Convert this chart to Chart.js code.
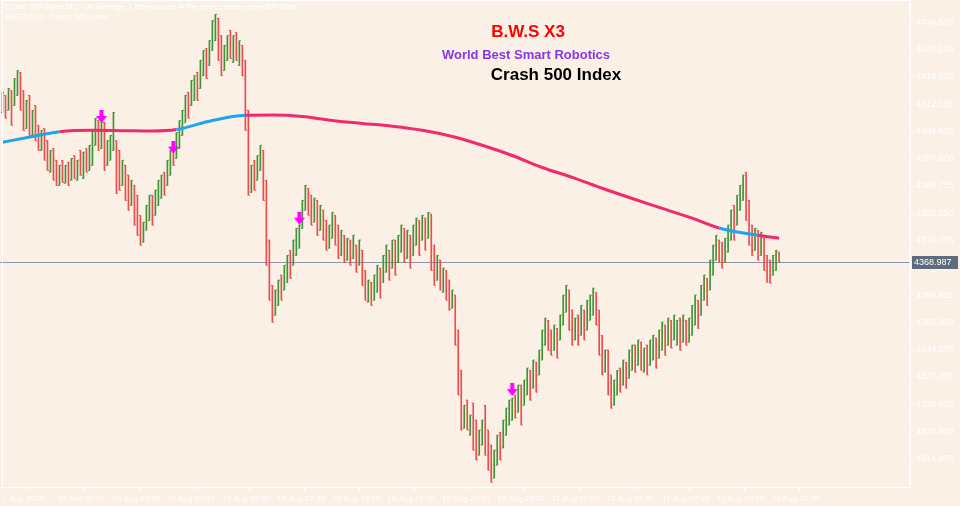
<!DOCTYPE html>
<html>
<head>
<meta charset="utf-8">
<script src="https://cdn.jsdelivr.net/npm/chart.js@4.4.1/dist/chart.umd.min.js"></script>
<style>
  html, body { margin: 0; padding: 0; background: #faf0e6; }
  #wrap { width: 960px; height: 506px; }
</style>
</head>
<body>
<div id="wrap"><canvas id="grafico"></canvas></div>
<script>
// Datos: barras (apertura / cierre)
const aperturas = [
  4409.9, 4414.6, 4410.5, 4415.9, 4411.8, 4414.6, 4420.9, 4415.9, 4405.5, 4414.6,
  4403.6, 4411.8, 4406.4, 4399.5, 4405.5, 4402.2, 4393.5, 4400.0, 4396.8, 4389.9,
  4396.8, 4390.5, 4396.2, 4391.3, 4398.1, 4391.3, 4399.5, 4391.8, 4400.0, 4394.0,
  4395.4, 4400.9, 4407.7, 4400.0, 4407.2, 4395.4, 4396.8, 4399.5, 4402.2, 4399.5,
  4389.9, 4395.4, 4392.7, 4384.4, 4389.9, 4387.2, 4381.7, 4374.3, 4377.6, 4380.3,
  4387.2, 4381.7, 4384.4, 4386.4, 4393.5, 4389.9, 4392.7, 4399.5, 4397.3, 4400.0,
  4403.6, 4407.2, 4415.4, 4411.8, 4413.2, 4420.9, 4416.5, 4420.0, 4427.5, 4422.8,
  4426.9, 4429.6, 4435.7, 4431.0, 4421.4, 4424.2, 4432.4, 4423.6, 4431.8, 4422.8,
  4428.3, 4424.2, 4410.5, 4388.0, 4396.8, 4391.3, 4394.0, 4399.5, 4391.3, 4374.9,
  4362.5, 4354.3, 4357.0, 4365.3, 4361.2, 4363.3, 4372.1, 4368.0, 4370.7, 4372.7,
  4378.1, 4383.1, 4389.1, 4387.2, 4379.8, 4385.8, 4377.6, 4383.1, 4380.3, 4372.7,
  4375.4, 4381.7, 4379.0, 4370.7, 4376.2, 4369.4, 4374.9, 4369.9, 4373.5, 4368.0,
  4372.1, 4366.6, 4357.9, 4363.3, 4358.4, 4360.6, 4367.2, 4363.3, 4366.1, 4372.1,
  4367.2, 4374.9, 4368.8, 4371.6, 4378.1, 4369.9, 4376.2, 4370.7, 4373.5, 4380.3,
  4374.9, 4380.9, 4375.4, 4382.0, 4373.5, 4363.9, 4369.4, 4360.6, 4366.6, 4363.9,
  4356.2, 4359.8, 4350.2, 4339.2, 4323.3, 4331.0, 4321.4, 4330.2, 4325.5, 4315.9,
  4318.7, 4329.6, 4322.8, 4318.7, 4309.6, 4313.2, 4322.2, 4317.9, 4321.4, 4324.2,
  4325.5, 4332.4, 4327.7, 4335.1, 4329.6, 4332.4, 4339.2, 4334.3, 4341.4, 4337.9,
  4342.0, 4346.1, 4352.9, 4350.2, 4344.7, 4350.7, 4347.5, 4351.6, 4355.1, 4361.2,
  4355.7, 4347.5, 4354.3, 4348.8, 4355.7, 4350.2, 4352.9, 4354.3, 4360.6, 4355.7,
  4348.8, 4338.7, 4344.7, 4337.9, 4329.6, 4332.4, 4339.8, 4335.1, 4341.4, 4337.0,
  4339.2, 4346.1, 4340.6, 4346.9, 4338.7, 4346.1, 4340.6, 4342.0, 4348.0, 4342.5,
  4344.7, 4351.6, 4346.1, 4352.9, 4347.5, 4346.1, 4353.5, 4346.9, 4352.9, 4346.9,
  4348.8, 4351.6, 4358.4, 4354.3, 4358.4, 4364.4, 4361.2, 4365.3, 4369.4, 4374.9,
  4374.3, 4368.8, 4371.6, 4374.9, 4384.4, 4379.0, 4383.1, 4385.8, 4393.5, 4385.8,
  4379.0, 4372.1, 4377.6, 4370.7, 4375.4, 4370.7, 4369.4, 4365.3, 4366.6, 4371.6
];
const cierres = [
  4415.4, 4408.3, 4416.5, 4406.4, 4419.2, 4421.4, 4410.5, 4405.0, 4413.2, 4403.6,
  4410.5, 4402.2, 4399.5, 4405.0, 4396.8, 4394.0, 4399.5, 4391.3, 4389.9, 4395.4,
  4390.7, 4395.4, 4389.9, 4397.3, 4391.8, 4396.8, 4392.7, 4399.0, 4393.5, 4400.9,
  4405.0, 4408.3, 4399.5, 4407.2, 4394.0, 4402.2, 4403.6, 4409.9, 4387.7, 4388.6,
  4396.8, 4385.8, 4383.1, 4391.3, 4379.0, 4376.2, 4373.5, 4379.8, 4384.4, 4387.2,
  4379.0, 4388.6, 4391.3, 4392.7, 4387.2, 4396.8, 4399.5, 4395.4, 4404.4, 4407.7,
  4410.5, 4414.6, 4408.3, 4418.7, 4420.0, 4413.2, 4424.2, 4426.9, 4419.2, 4429.6,
  4435.1, 4436.8, 4424.2, 4420.0, 4428.3, 4431.0, 4424.7, 4431.0, 4424.2, 4429.6,
  4420.0, 4405.0, 4387.2, 4395.4, 4388.6, 4398.1, 4400.9, 4385.8, 4368.0, 4358.4,
  4352.4, 4361.2, 4363.9, 4358.4, 4368.0, 4370.7, 4364.4, 4374.9, 4378.1, 4379.0,
  4385.8, 4389.9, 4381.7, 4379.0, 4386.4, 4376.2, 4384.4, 4374.9, 4372.1, 4379.0,
  4382.5, 4373.5, 4369.9, 4377.6, 4368.8, 4375.4, 4368.0, 4376.2, 4366.1, 4374.9,
  4362.5, 4358.4, 4363.9, 4357.0, 4365.3, 4368.0, 4359.0, 4370.7, 4373.5, 4363.9,
  4374.9, 4365.3, 4376.2, 4379.0, 4368.8, 4377.6, 4367.2, 4379.0, 4380.9, 4370.7,
  4381.7, 4372.1, 4382.5, 4366.6, 4362.5, 4370.7, 4361.2, 4367.2, 4358.4, 4355.7,
  4361.2, 4346.1, 4332.4, 4322.8, 4329.6, 4322.8, 4326.9, 4317.3, 4314.6, 4322.8,
  4325.5, 4315.9, 4311.8, 4308.5, 4317.3, 4321.4, 4314.6, 4325.5, 4328.8, 4331.0,
  4331.6, 4326.1, 4335.1, 4324.2, 4336.5, 4339.8, 4331.0, 4342.0, 4333.2, 4344.7,
  4350.2, 4353.5, 4344.7, 4343.3, 4351.6, 4342.5, 4354.3, 4359.8, 4362.5, 4350.2,
  4346.1, 4353.5, 4346.1, 4357.0, 4347.5, 4358.4, 4359.8, 4361.7, 4351.6, 4343.3,
  4337.9, 4344.7, 4332.4, 4328.8, 4336.5, 4339.2, 4333.2, 4342.0, 4334.3, 4344.7,
  4346.1, 4338.7, 4347.5, 4339.2, 4345.3, 4337.9, 4347.5, 4348.8, 4339.8, 4350.2,
  4352.4, 4343.3, 4353.5, 4345.3, 4354.3, 4352.9, 4344.7, 4354.3, 4346.1, 4353.5,
  4357.0, 4359.8, 4350.7, 4362.5, 4365.3, 4357.0, 4369.4, 4373.5, 4376.2, 4368.8,
  4367.2, 4375.4, 4379.0, 4383.1, 4374.9, 4387.2, 4389.9, 4392.7, 4380.3, 4373.5,
  4370.7, 4378.1, 4369.4, 4377.0, 4366.6, 4363.3, 4363.1, 4370.7, 4372.1, 4369.0
];

// Media móvil (índice de barra, valor, señal)
const mediaIndice = [0, 10, 19, 30, 40, 50, 58, 70, 81, 90, 100, 110, 120, 130, 140, 150,
  160, 170, 180, 190, 200, 210, 220, 230, 239, 252, 259];
const mediaValor = [4401.7, 4403.3, 4404.6, 4405.0, 4404.9, 4404.8, 4405.2, 4407.7, 4409.1,
  4409.2, 4408.8, 4407.7, 4406.9, 4406.1, 4405.0, 4403.3, 4400.9, 4398.1, 4394.8, 4392.1,
  4389.1, 4386.3, 4383.6, 4380.9, 4378.2, 4376.2, 4375.4];
const mediaSenal = ['up', 'up', 'down', 'down', 'down', 'down', 'up', 'up', 'down', 'down',
  'down', 'down', 'down', 'down', 'down', 'down', 'down', 'down', 'down', 'down', 'down',
  'down', 'down', 'down', 'up', 'down', 'down'];

// Flechas de venta
const flechaIndice = [33, 57, 99, 170];
const flechaPrecio = [4408.8, 4400.4, 4380.9, 4333.9];

// Ejes
const precioTicks = [4314.975, 4322.450, 4329.925, 4337.400, 4344.875, 4352.350, 4359.825,
  4367.300, 4374.775, 4382.250, 4389.725, 4397.200, 4404.675, 4412.150, 4419.625, 4427.100, 4434.575];
const tiempoTicks = [0, 18.33, 36.67, 55, 73.33, 91.67, 110, 128.33, 146.67, 165, 183.33,
  201.67, 220, 238.33, 256.67];
const tiempoEtiquetas = ['1 Aug 2024', '10 Aug 01:50', '10 Aug 04:30', '10 Aug 07:10',
  '10 Aug 09:50', '10 Aug 12:30', '10 Aug 15:10', '10 Aug 17:50', '10 Aug 20:30',
  '10 Aug 23:10', '11 Aug 01:50', '11 Aug 04:30', '11 Aug 07:10', '11 Aug 09:50', '11 Aug 12:30'];
const precioActual = 4368.987;
const precioMin = 4307.18;
const precioMax = 4440.60;
const indiceMin = -0.667;
const indiceMax = 302.667;

const verde = '#3f9334';
const rojo = '#ef4b4b';
const azul = '#1ea4ee';
const rosa = '#f02a6c';
const fuente = 'Liberation Sans, Arial, sans-serif';

// Flecha magenta
function crearFlecha() {
  const c = document.createElement('canvas');
  c.width = 11; c.height = 13;
  const g = c.getContext('2d');
  g.fillStyle = '#ff00ff';
  g.fillRect(3.5, 0, 4, 7);
  g.beginPath();
  g.moveTo(0, 6); g.lineTo(11, 6); g.lineTo(5.5, 13); g.closePath();
  g.fill();
  return c;
}

// Sin relleno extra alrededor de los ejes
function sinPadding(s) {
  s.paddingLeft = 0; s.paddingRight = 0; s.paddingTop = 0; s.paddingBottom = 0;
}

const barras = aperturas.map((o, i) => ({ x: i, y: [o, cierres[i]] }));
const coloresBarra = aperturas.map((o, i) => cierres[i] >= o ? verde : rojo);
const media = mediaIndice.map((ix, i) => ({ x: ix, y: mediaValor[i] }));
const flechas = flechaIndice.map((ix, i) => ({ x: ix, y: flechaPrecio[i] }));

const fondo = {
  id: 'fondo',
  beforeDraw(chart) {
    const ctx = chart.ctx;
    ctx.save();
    ctx.fillStyle = '#faf0e6';
    ctx.fillRect(0, 0, chart.width, chart.height);
    ctx.restore();
  },
  beforeDatasetsDraw(chart) {
    const ctx = chart.ctx;
    const a = chart.chartArea;
    const y = Math.round(chart.scales.y.getPixelForValue(precioActual)) + 0.5;
    ctx.save();
    ctx.strokeStyle = '#8c96a2';
    ctx.lineWidth = 1;
    ctx.beginPath();
    ctx.moveTo(0, y); ctx.lineTo(a.right, y);
    ctx.stroke();
    ctx.restore();
  },
  afterDatasetDraw(chart, args) {
    if (args.index !== 0) return;
    // marcas de apertura y cierre
    const ctx = chart.ctx;
    const ys = chart.scales.y;
    ctx.save();
    args.meta.data.forEach((el, i) => {
      ctx.fillStyle = coloresBarra[i];
      ctx.fillRect(el.x - 1.5, ys.getPixelForValue(aperturas[i]) - 0.5, 1, 1);
      ctx.fillRect(el.x + 0.5, ys.getPixelForValue(cierres[i]) - 0.5, 1, 1);
    });
    ctx.restore();
  },
  afterDraw(chart) {
    const ctx = chart.ctx;
    const a = chart.chartArea;
    ctx.save();
    // marco
    ctx.strokeStyle = '#ffffff';
    ctx.lineWidth = 1;
    ctx.strokeRect(2.5, 0.5, a.right - 2.5, a.bottom);
    // etiqueta de precio actual
    const y = Math.round(chart.scales.y.getPixelForValue(precioActual));
    ctx.fillStyle = '#5d6b7b';
    ctx.fillRect(a.right + 2, y - 6, 46, 13);
    ctx.fillStyle = '#ffffff';
    ctx.font = '9px ' + fuente;
    ctx.textBaseline = 'middle';
    ctx.textAlign = 'left';
    ctx.fillText(precioActual.toFixed(3), a.right + 4, y + 1);
    // textos superiores
    ctx.textBaseline = 'alphabetic';
    ctx.font = '8px ' + fuente;
    ctx.fillText('Crash 500 Index,M1:  On average 1 drop occurs in the price series every 500 ticks', 5, 9);
    ctx.fillText('BWSX3(0) - Crash 500 Index', 5, 19);
    ctx.textAlign = 'center';
    ctx.textBaseline = 'middle';
    ctx.font = 'bold 17px ' + fuente;
    ctx.fillStyle = '#ff0000';
    ctx.fillText('B.W.S X3', 528, 32);
    ctx.font = 'bold 13px ' + fuente;
    ctx.fillStyle = '#8a36e4';
    ctx.fillText('World Best Smart Robotics', 526, 55);
    ctx.font = 'bold 17px ' + fuente;
    ctx.fillStyle = '#000000';
    ctx.fillText('Crash 500 Index', 556, 75);
    ctx.restore();
  }
};

new Chart(document.getElementById('grafico'), {
  type: 'bar',
  data: {
    datasets: [{
      type: 'bar',
      label: 'Crash 500',
      data: barras,
      backgroundColor: coloresBarra,
      barThickness: 1,
      borderWidth: 0,
      order: 3
    }, {
      type: 'line',
      label: 'Media',
      data: media,
      borderWidth: 3,
      pointRadius: 0,
      pointHoverRadius: 0,
      tension: 0.4,
      cubicInterpolationMode: 'monotone',
      borderColor: rosa,
      segment: {
        borderColor: c => mediaSenal[c.p0DataIndex] === 'up' ? azul : rosa
      },
      order: 2
    }, {
      type: 'scatter',
      label: 'Señal',
      data: flechas,
      pointStyle: crearFlecha(),
      pointRadius: 0.5,
      pointHoverRadius: 0.5,
      pointBorderWidth: 0,
      order: 1
    }]
  },
  options: {
    responsive: true,
    maintainAspectRatio: false,
    animation: false,
    layout: { padding: 0 },
    plugins: {
      legend: { display: false },
      tooltip: { enabled: false }
    },
    scales: {
      x: {
        type: 'linear',
        offset: false,
        min: indiceMin,
        max: indiceMax,
        afterBuildTicks: s => { s.ticks = tiempoTicks.map(v => ({ value: v })); },
        afterFit: s => { s.height = 19; sinPadding(s); },
        ticks: {
          color: '#ffffff',
          font: { size: 8, family: fuente },
          align: 'start',
          maxRotation: 0,
          autoSkip: false,
          padding: 3,
          callback: (v, i) => tiempoEtiquetas[i]
        },
        grid: { drawOnChartArea: false, color: '#ffffff', tickLength: 4 },
        border: { color: '#ffffff' }
      },
      y: {
        position: 'right',
        min: precioMin,
        max: precioMax,
        afterBuildTicks: s => { s.ticks = precioTicks.map(v => ({ value: v })); },
        afterFit: s => { s.width = 50; sinPadding(s); },
        ticks: {
          color: '#ffffff',
          font: { size: 9, family: fuente },
          padding: 3,
          callback: v => v.toFixed(3)
        },
        grid: { drawOnChartArea: false, color: '#ffffff', tickLength: 3 },
        border: { color: '#ffffff' }
      }
    }
  },
  plugins: [fondo]
});
</script>
</body>
</html>
